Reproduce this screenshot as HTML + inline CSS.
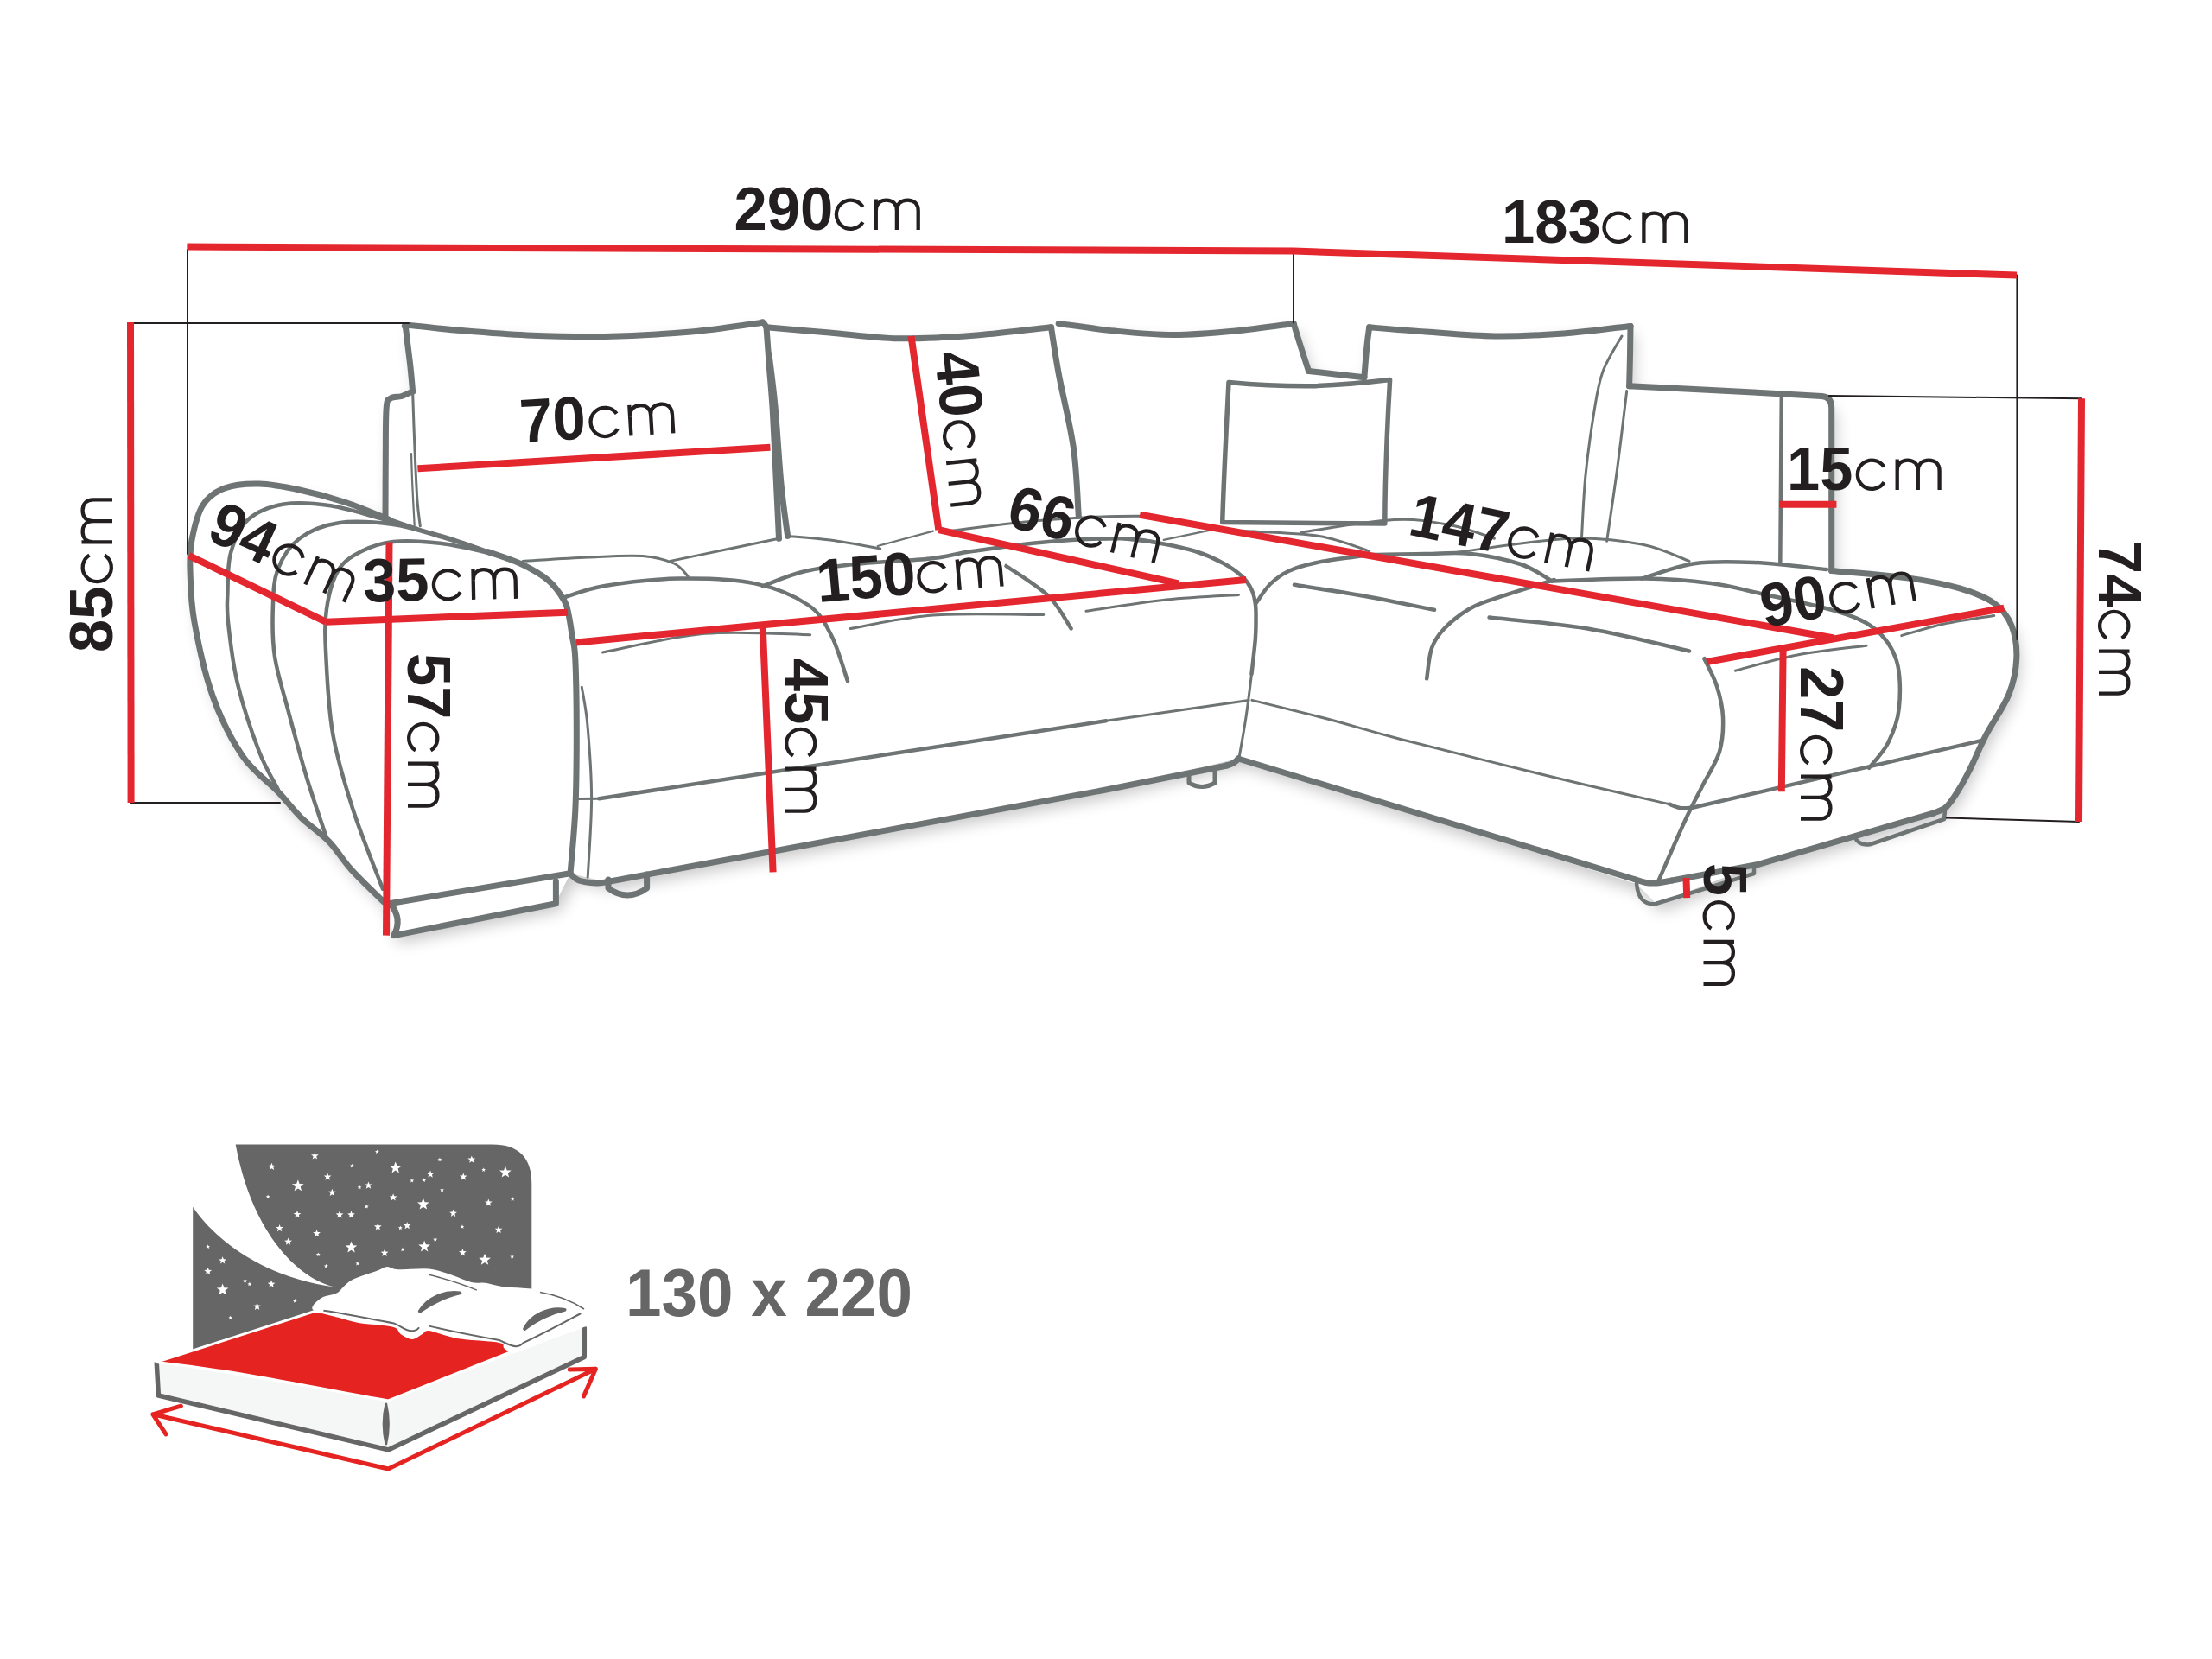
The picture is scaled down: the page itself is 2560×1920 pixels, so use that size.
<!DOCTYPE html>
<html><head><meta charset="utf-8"><style>
html,body{margin:0;padding:0;background:#fff;width:2560px;height:1920px;overflow:hidden}
svg{display:block}
text{font-family:"Liberation Sans",sans-serif}
</style></head><body>
<svg width="2560" height="1920" viewBox="0 0 2560 1920">
<rect width="2560" height="1920" fill="#fff"/>
<defs><filter id="sh" x="-10%" y="-10%" width="120%" height="130%"><feGaussianBlur stdDeviation="9"/></filter></defs>
<path d="M218.8 644.0 L222.0 625.0 L234.5 585.0 L260.0 565.0 L300.0 560.0 L346.6 567.0 L400.8 581.7 L446.0 597.6 L446.3 530.0 L447.2 472.0 L452.0 461.0 L477.6 453.0 L471.0 392.0 L469.5 379.0 L526.8 382.0 L700.0 389.5 L874.0 374.5 L887.0 378.8 L1040.0 391.8 L1216.5 378.8 L1225.0 374.5 L1358.3 387.5 L1497.2 374.5 L1514.5 429.4 L1578.9 436.7 L1584.7 378.8 L1729.4 389.0 L1887.0 377.4 L1885.6 446.8 L2108.0 458.5 L2119.7 472.0 L2119.7 660.4 L2209.4 669.1 L2267.2 680.7 L2307.7 698.0 L2328.0 724.0 L2333.8 761.7 L2325.0 803.4 L2299.0 849.7 L2267.2 913.4 L2252.8 933.6 L2238.3 940.8 L2035.7 1000.2 L1917.0 1046.0 L1894.0 1023.0 L1433.0 878.0 L1280.0 914.0 L702.0 1020.7 L660.0 1011.0 L643.0 1045.0 L456.0 1082.6 L443.7 1043.5 L406.8 1006.6 L380.8 974.0 L348.2 945.9 L321.5 916.0 L281.0 875.4 L246.3 806.0 L225.0 720.0Z" fill="#000" opacity="0.22" filter="url(#sh)" transform="translate(5 9)"/>
<path d="M218.8 644.0 L222.0 625.0 L234.5 585.0 L260.0 565.0 L300.0 560.0 L346.6 567.0 L400.8 581.7 L446.0 597.6 L446.3 530.0 L447.2 472.0 L452.0 461.0 L477.6 453.0 L471.0 392.0 L469.5 379.0 L526.8 382.0 L700.0 389.5 L874.0 374.5 L887.0 378.8 L1040.0 391.8 L1216.5 378.8 L1225.0 374.5 L1358.3 387.5 L1497.2 374.5 L1514.5 429.4 L1578.9 436.7 L1584.7 378.8 L1729.4 389.0 L1887.0 377.4 L1885.6 446.8 L2108.0 458.5 L2119.7 472.0 L2119.7 660.4 L2209.4 669.1 L2267.2 680.7 L2307.7 698.0 L2328.0 724.0 L2333.8 761.7 L2325.0 803.4 L2299.0 849.7 L2267.2 913.4 L2252.8 933.6 L2238.3 940.8 L2035.7 1000.2 L1917.0 1046.0 L1894.0 1023.0 L1433.0 878.0 L1280.0 914.0 L702.0 1020.7 L660.0 1011.0 L643.0 1045.0 L456.0 1082.6 L443.7 1043.5 L406.8 1006.6 L380.8 974.0 L348.2 945.9 L321.5 916.0 L281.0 875.4 L246.3 806.0 L225.0 720.0Z" fill="#fff"/>
<path d="M446.0 603.0 C446.1 590.8 446.1 551.8 446.3 530.0 C446.5 508.2 446.2 483.5 447.2 472.0 C448.1 460.5 449.0 463.2 452.0 461.0 C455.0 458.8 460.7 459.8 465.0 458.5 C469.3 457.2 475.5 453.9 477.6 453.0" stroke="#6e7373" stroke-width="7" fill="none" stroke-linecap="round" stroke-linejoin="round"/>
<path d="M477.6 453.0 C477.2 448.3 476.1 435.2 475.0 425.0 C473.9 414.8 471.9 399.7 471.0 392.0 C470.1 384.3 469.8 381.2 469.5 379.0" stroke="#6e7373" stroke-width="7" fill="none" stroke-linecap="round" stroke-linejoin="round"/>
<path d="M469.5 379.0 C470.2 378.6 464.4 376.0 474.0 376.5 C483.6 377.0 504.1 380.1 526.8 382.0 C549.5 383.9 581.1 386.8 610.0 388.0 C638.9 389.2 668.3 390.2 700.0 389.5 C731.7 388.8 771.0 386.5 800.0 384.0 C829.0 381.5 860.2 376.3 874.0 374.5 C887.8 372.7 880.5 372.3 882.7 373.0 C884.9 373.7 886.3 377.8 887.0 378.8" stroke="#6e7373" stroke-width="7" fill="none" stroke-linecap="round" stroke-linejoin="round"/>
<path d="M887.0 378.8 C887.5 385.7 888.8 403.9 890.0 420.0 C891.2 436.1 893.0 454.0 894.3 475.7 C895.6 497.4 896.8 525.4 898.0 550.0 C899.2 574.6 900.9 611.1 901.5 623.3" stroke="#6e7373" stroke-width="7" fill="none" stroke-linecap="round" stroke-linejoin="round"/>
<path d="M477.6 453.0 C478.0 464.2 479.1 498.8 480.0 520.0 C480.9 541.2 481.9 565.2 483.0 580.0 C484.1 594.8 485.8 604.0 486.3 608.8" stroke="#6e7373" stroke-width="3" fill="none" stroke-linecap="round" stroke-linejoin="round"/>
<path d="M476.0 525.0 C476.2 530.8 476.6 546.2 477.2 560.0 C477.8 573.8 479.3 600.0 479.7 608.0" stroke="#6e7373" stroke-width="2.2" fill="none" stroke-linecap="round" stroke-linejoin="round"/>
<path d="M901.5 623.3 C891.2 625.4 861.0 631.6 840.0 636.0 C819.0 640.4 786.4 647.2 775.7 649.4" stroke="#6e7373" stroke-width="3" fill="none" stroke-linecap="round" stroke-linejoin="round"/>
<path d="M887.0 378.8 C899.2 379.8 934.5 382.8 960.0 385.0 C985.5 387.2 1011.7 391.3 1040.0 391.8 C1068.3 392.3 1100.6 390.2 1130.0 388.0 C1159.4 385.8 1202.1 380.3 1216.5 378.8" stroke="#6e7373" stroke-width="7" fill="none" stroke-linecap="round" stroke-linejoin="round"/>
<path d="M890.0 410.0 C891.2 420.0 894.7 445.0 897.0 470.0 C899.3 495.0 901.6 534.9 904.0 560.0 C906.4 585.1 910.3 610.3 911.6 620.4" stroke="#6e7373" stroke-width="7" fill="none" stroke-linecap="round" stroke-linejoin="round"/>
<path d="M911.6 620.4 C919.8 621.2 942.9 622.6 960.8 625.0 C978.6 627.4 1009.1 633.3 1018.7 635.0" stroke="#6e7373" stroke-width="3" fill="none" stroke-linecap="round" stroke-linejoin="round"/>
<path d="M1216.5 378.8 C1218.0 387.7 1220.9 408.9 1225.2 432.3 C1229.5 455.7 1238.7 491.6 1242.5 519.1 C1246.3 546.6 1247.3 584.3 1248.3 597.3" stroke="#6e7373" stroke-width="7" fill="none" stroke-linecap="round" stroke-linejoin="round"/>
<path d="M1225.2 374.5 C1236.0 375.9 1267.8 380.8 1290.0 383.0 C1312.2 385.2 1335.0 387.5 1358.3 387.5 C1381.6 387.5 1406.8 385.2 1430.0 383.0 C1453.2 380.8 1486.0 375.9 1497.2 374.5" stroke="#6e7373" stroke-width="7" fill="none" stroke-linecap="round" stroke-linejoin="round"/>
<path d="M1497.2 374.5 C1498.5 378.8 1502.1 390.9 1505.0 400.0 C1507.9 409.1 1512.9 424.5 1514.5 429.4" stroke="#6e7373" stroke-width="7" fill="none" stroke-linecap="round" stroke-linejoin="round"/>
<path d="M1514.5 429.4 C1519.6 430.0 1534.3 431.8 1545.0 433.0 C1555.7 434.2 1573.2 436.1 1578.9 436.7" stroke="#6e7373" stroke-width="7" fill="none" stroke-linecap="round" stroke-linejoin="round"/>
<path d="M1578.9 436.7 C1579.4 430.6 1581.0 409.6 1582.0 400.0 C1583.0 390.4 1584.2 382.3 1584.7 378.8" stroke="#6e7373" stroke-width="7" fill="none" stroke-linecap="round" stroke-linejoin="round"/>
<path d="M1584.7 378.8 C1595.6 379.7 1625.9 382.3 1650.0 384.0 C1674.1 385.7 1702.7 388.7 1729.4 389.0 C1756.1 389.3 1783.7 387.9 1810.0 386.0 C1836.3 384.1 1874.2 378.8 1887.0 377.4" stroke="#6e7373" stroke-width="7" fill="none" stroke-linecap="round" stroke-linejoin="round"/>
<path d="M1887.0 377.4 C1886.9 382.8 1886.7 398.4 1886.5 410.0 C1886.3 421.6 1885.8 440.7 1885.6 446.8" stroke="#6e7373" stroke-width="7" fill="none" stroke-linecap="round" stroke-linejoin="round"/>
<path d="M1877.0 389.0 C1873.3 395.8 1860.3 415.6 1855.0 430.0 C1849.7 444.4 1848.3 455.7 1845.0 475.7 C1841.7 495.7 1837.4 525.9 1835.0 550.0 C1832.6 574.1 1831.3 608.7 1830.6 620.4" stroke="#6e7373" stroke-width="3" fill="none" stroke-linecap="round" stroke-linejoin="round"/>
<path d="M1882.7 452.6 C1880.9 467.2 1875.8 511.1 1872.0 540.0 C1868.2 568.9 1861.7 611.8 1859.6 626.2" stroke="#6e7373" stroke-width="3" fill="none" stroke-linecap="round" stroke-linejoin="round"/>
<path d="M1885.6 446.8 C1904.7 447.8 1962.9 450.6 2000.0 452.5 C2037.1 454.4 2090.0 457.5 2108.0 458.5" stroke="#6e7373" stroke-width="7" fill="none" stroke-linecap="round" stroke-linejoin="round"/>
<path d="M2108 458.5 Q2119.7 459 2119.7 472 L2119.7 660.4" stroke="#6e7373" stroke-width="7" fill="none" stroke-linecap="round" stroke-linejoin="round"/>
<path d="M2061.8 460.8 C2061.7 477.3 2061.2 528.2 2061.0 560.0 C2060.8 591.8 2060.4 636.4 2060.3 651.7" stroke="#6e7373" stroke-width="4.5" fill="none" stroke-linecap="round" stroke-linejoin="round"/>
<path d="M1422 442.5 C1460 446 1490 447 1517.4 446.8 C1550 446 1580 443 1608.6 439.6 C1605 500 1603 560 1602.8 606 C1560 606 1480 605 1414.7 604.5 C1416 560 1419 500 1422 442.5 Z" stroke="#6e7373" stroke-width="5.5" fill="none" stroke-linecap="round" stroke-linejoin="round"/>
<path d="M443.7 1043.5 C437.6 1037.3 417.3 1018.2 406.8 1006.6 C396.3 995.0 390.6 984.1 380.8 974.0 C371.0 963.9 358.1 955.6 348.2 945.9 C338.3 936.2 332.7 927.8 321.5 916.0 C310.3 904.2 293.5 893.7 281.0 875.4 C268.5 857.1 255.6 831.9 246.3 806.0 C237.0 780.1 229.4 744.3 225.0 720.0 C220.6 695.7 220.5 675.8 220.0 660.0 C219.5 644.2 219.6 637.5 222.0 625.0 C224.4 612.5 228.2 595.0 234.5 585.0 C240.8 575.0 249.1 569.2 260.0 565.0 C270.9 560.8 285.6 559.7 300.0 560.0 C314.4 560.3 329.8 563.4 346.6 567.0 C363.4 570.6 383.6 576.0 400.8 581.7 C418.0 587.4 441.6 597.8 449.7 601.0" stroke="#6e7373" stroke-width="7" fill="none" stroke-linecap="round" stroke-linejoin="round"/>
<path d="M440.0 597.0 C447.1 599.5 469.0 607.6 482.3 611.9 C495.6 616.2 506.3 618.6 520.0 623.0 C533.7 627.4 550.9 633.6 564.6 638.5 C578.4 643.4 590.9 646.9 602.5 652.4 C614.1 657.9 628.9 668.2 634.2 671.4" stroke="#6e7373" stroke-width="4.5" fill="none" stroke-linecap="round" stroke-linejoin="round"/>
<path d="M321.5 913.0 C317.9 905.8 307.8 890.2 300.0 870.0 C292.2 849.8 281.0 816.5 275.0 791.5 C269.0 766.5 265.9 737.5 264.0 720.0 C262.1 702.5 262.9 699.9 263.4 686.6 C263.9 673.3 263.1 654.2 267.0 640.0 C270.9 625.8 276.6 611.0 286.9 601.6 C297.1 592.2 312.5 586.2 328.5 583.5 C344.5 580.8 363.1 582.3 382.7 585.3 C402.3 588.3 429.4 597.2 446.0 601.6 C462.6 606.0 476.2 610.2 482.3 611.9" stroke="#6e7373" stroke-width="4.5" fill="none" stroke-linecap="round" stroke-linejoin="round"/>
<path d="M379.4 973.8 C375.3 961.5 362.7 925.6 355.0 900.0 C347.3 874.4 339.2 843.7 333.0 820.4 C326.8 797.1 320.9 779.3 318.0 760.0 C315.1 740.7 315.2 721.5 315.8 704.7 C316.4 688.0 316.2 673.1 321.3 659.5 C326.4 645.9 334.9 632.3 346.6 623.3 C358.4 614.2 373.7 607.9 391.8 605.2 C409.9 602.5 435.4 604.4 455.0 607.0 C474.6 609.6 491.0 615.8 509.3 621.0 C527.6 626.2 555.4 635.6 564.6 638.5" stroke="#6e7373" stroke-width="4.5" fill="none" stroke-linecap="round" stroke-linejoin="round"/>
<path d="M564.6 638.5 C570.9 640.8 590.9 646.9 602.5 652.4 C614.1 657.9 625.8 664.2 634.2 671.4 C642.7 678.6 649.2 688.6 653.2 695.4 C657.2 702.2 656.7 705.4 658.2 712.0 C659.7 718.6 660.7 726.6 662.0 735.0 C663.3 743.4 664.9 743.4 665.8 762.5 C666.7 781.6 667.3 820.5 667.3 849.4 C667.3 878.3 667.1 909.0 665.9 936.0 C664.7 963.0 661.0 998.8 660.0 1011.4" stroke="#6e7373" stroke-width="7" fill="none" stroke-linecap="round" stroke-linejoin="round"/>
<path d="M443.0 1028.8 C437.2 1013.4 417.9 966.1 408.3 936.2 C398.7 906.3 390.4 878.9 385.2 849.4 C380.0 819.9 378.5 783.1 377.3 759.0 C376.1 734.9 375.6 721.3 378.0 704.7 C380.4 688.1 385.0 670.6 391.8 659.5 C398.6 648.4 408.4 643.2 418.9 637.8 C429.4 632.4 439.9 628.4 455.0 626.9 C470.1 625.4 491.2 626.6 509.3 628.7 C527.4 630.8 548.1 635.7 563.6 639.6 C579.1 643.5 596.0 650.3 602.5 652.4" stroke="#6e7373" stroke-width="4.5" fill="none" stroke-linecap="round" stroke-linejoin="round"/>
<path d="M450.2 1045.7 L658.5 1011 M643.4 1020 L643.4 1045.7 L456 1082.6" stroke="#6e7373" stroke-width="7" fill="none" stroke-linecap="round" stroke-linejoin="round"/>
<path d="M452 1046 Q466 1064 456 1082" stroke="#6e7373" stroke-width="7" fill="none" stroke-linecap="round" stroke-linejoin="round"/>
<path d="M673.3 795.2 C674.4 802.7 678.1 818.5 680.0 840.0 C681.9 861.5 684.6 895.0 684.6 924.2 C684.6 953.4 680.9 1000.1 680.2 1015.3" stroke="#6e7373" stroke-width="3" fill="none" stroke-linecap="round" stroke-linejoin="round"/>
<path d="M660.0 1011.0 C661.7 1012.3 665.0 1017.2 670.0 1019.0 C675.0 1020.8 684.7 1021.7 690.0 1022.0 C695.3 1022.3 700.0 1020.9 702.0 1020.7" stroke="#6e7373" stroke-width="7" fill="none" stroke-linecap="round" stroke-linejoin="round"/>
<path d="M702.0 1020.7 L1280.0 914.0 L1420.0 886.0" stroke="#6e7373" stroke-width="7" fill="none" stroke-linecap="round" stroke-linejoin="round"/>
<path d="M1419 886 Q1429 884 1433 878" stroke="#6e7373" stroke-width="7" fill="none" stroke-linecap="round" stroke-linejoin="round"/>
<path d="M704 1018 L704 1028 Q726 1044 748.6 1028 L748.6 1012" stroke="#6e7373" stroke-width="7" fill="none" stroke-linecap="round" stroke-linejoin="round"/>
<path d="M1376 896 L1376 906 Q1391 915 1406 906 L1406 892" stroke="#6e7373" stroke-width="5" fill="none" stroke-linecap="round" stroke-linejoin="round"/>
<path d="M669.0 924.5 L693.3 924.2" stroke="#6e7373" stroke-width="3" fill="none" stroke-linecap="round" stroke-linejoin="round"/>
<path d="M693.3 924.2 L1280.0 834.3" stroke="#6e7373" stroke-width="4.5" fill="none" stroke-linecap="round" stroke-linejoin="round"/>
<path d="M1280.0 834.3 L1445.0 810.4" stroke="#6e7373" stroke-width="3" fill="none" stroke-linecap="round" stroke-linejoin="round"/>
<path d="M1300.4 623.3 C1307.0 624.1 1326.2 625.8 1340.0 628.2 C1353.8 630.7 1370.7 634.0 1383.4 638.0 C1396.1 642.0 1407.0 647.1 1416.0 652.0 C1425.0 656.9 1432.2 662.1 1437.6 667.2 C1443.0 672.3 1445.9 676.9 1448.5 682.4 C1451.1 687.9 1452.2 693.7 1453.0 700.0 C1453.8 706.3 1453.5 713.3 1453.5 720.0 C1453.5 726.7 1453.6 730.0 1452.8 740.0 C1452.0 750.0 1449.2 773.3 1448.5 780.0" stroke="#6e7373" stroke-width="4.5" fill="none" stroke-linecap="round" stroke-linejoin="round"/>
<path d="M1452.8 740.0 C1452.1 746.7 1450.3 765.0 1448.5 780.0 C1446.7 795.0 1444.4 813.8 1442.0 830.0 C1439.6 846.2 1435.3 869.2 1434.0 877.0" stroke="#6e7373" stroke-width="3" fill="none" stroke-linecap="round" stroke-linejoin="round"/>
<path d="M651.0 692.0 C659.2 689.7 677.3 681.7 700.0 678.0 C722.7 674.3 758.2 670.0 787.2 669.6 C816.2 669.2 849.4 670.3 874.0 675.4 C898.6 680.5 920.3 690.1 935.0 700.0 C949.7 709.9 954.3 720.3 962.0 735.0 C969.7 749.7 977.8 779.3 981.0 788.2" stroke="#6e7373" stroke-width="4.5" fill="none" stroke-linecap="round" stroke-linejoin="round"/>
<path d="M605.0 649.4 C617.5 648.7 656.9 646.0 680.0 645.0 C703.1 644.0 727.1 642.4 743.8 643.6 C760.5 644.8 771.3 648.1 780.0 652.0 C788.7 655.9 793.3 664.2 796.0 666.7" stroke="#6e7373" stroke-width="3" fill="none" stroke-linecap="round" stroke-linejoin="round"/>
<path d="M882.7 678.3 C890.9 675.4 912.5 665.4 932.0 661.0 C951.5 656.6 975.9 654.4 1000.0 652.0 C1024.1 649.6 1055.5 648.9 1076.6 646.5 C1097.7 644.1 1104.0 641.0 1126.8 637.8 C1149.6 634.5 1184.7 629.4 1213.6 627.0 C1242.5 624.6 1279.3 623.1 1300.4 623.3 C1321.5 623.5 1333.4 627.4 1340.0 628.2" stroke="#6e7373" stroke-width="4.5" fill="none" stroke-linecap="round" stroke-linejoin="round"/>
<path d="M1097.9 614.6 C1117.2 612.4 1175.0 604.5 1213.6 601.6 C1252.2 598.7 1301.7 596.7 1329.4 597.3 C1357.1 597.9 1371.6 603.7 1380.0 605.0" stroke="#6e7373" stroke-width="3" fill="none" stroke-linecap="round" stroke-linejoin="round"/>
<path d="M1015.8 632.0 L1080.0 614.6" stroke="#6e7373" stroke-width="2.2" fill="none" stroke-linecap="round" stroke-linejoin="round"/>
<path d="M697.5 755.0 C717.2 751.4 776.0 736.7 816.0 733.3 C856.0 729.9 917.4 734.5 937.7 734.7" stroke="#6e7373" stroke-width="3" fill="none" stroke-linecap="round" stroke-linejoin="round"/>
<path d="M984.0 727.5 C1000.0 724.9 1042.7 714.6 1080.0 712.0 C1117.3 709.4 1186.5 711.7 1207.8 711.6" stroke="#6e7373" stroke-width="3" fill="none" stroke-linecap="round" stroke-linejoin="round"/>
<path d="M1257.0 707.2 C1272.5 705.0 1320.6 697.1 1350.0 694.0 C1379.4 690.9 1419.6 689.3 1433.5 688.4" stroke="#6e7373" stroke-width="3" fill="none" stroke-linecap="round" stroke-linejoin="round"/>
<path d="M1164.4 655.0 C1172.6 660.8 1201.0 677.9 1213.6 690.0 C1226.1 702.1 1235.3 721.2 1239.7 727.5" stroke="#6e7373" stroke-width="4.5" fill="none" stroke-linecap="round" stroke-linejoin="round"/>
<path d="M1346.7 624.8 L1410.0 611.7" stroke="#6e7373" stroke-width="2.2" fill="none" stroke-linecap="round" stroke-linejoin="round"/>
<path d="M1453.9 697.6 C1456.6 694.0 1463.7 682.1 1470.0 676.0 C1476.3 669.9 1482.7 664.9 1491.8 660.7 C1500.9 656.5 1511.7 653.7 1524.4 651.0 C1537.1 648.3 1556.9 646.0 1567.8 644.5 C1578.7 643.0 1576.1 642.7 1589.8 642.1 C1603.5 641.5 1631.6 641.2 1650.0 641.0 C1668.4 640.8 1682.1 638.7 1700.4 640.7 C1718.7 642.7 1744.1 647.7 1760.0 653.0 C1775.9 658.3 1790.0 669.2 1796.0 672.5" stroke="#6e7373" stroke-width="4.5" fill="none" stroke-linecap="round" stroke-linejoin="round"/>
<path d="M1796.0 672.5 C1813.8 672.0 1872.3 669.2 1903.0 669.6 C1933.7 670.0 1957.9 672.2 1980.0 675.0 C2002.1 677.8 2012.0 681.2 2035.7 686.5 C2059.4 691.8 2100.3 700.0 2122.5 706.7 C2144.7 713.5 2156.7 717.4 2168.8 727.0 C2180.9 736.6 2190.1 749.2 2194.9 764.6 C2199.7 780.0 2199.5 803.7 2197.8 819.6 C2196.2 835.5 2190.8 848.5 2185.0 860.0 C2179.2 871.5 2166.7 884.0 2163.0 888.8" stroke="#6e7373" stroke-width="4.5" fill="none" stroke-linecap="round" stroke-linejoin="round"/>
<path d="M1900.0 669.6 C1910.1 666.7 1939.1 655.3 1960.8 652.2 C1982.5 649.1 2004.5 649.9 2030.0 651.0 C2055.5 652.1 2099.9 657.7 2113.9 659.0" stroke="#6e7373" stroke-width="4.5" fill="none" stroke-linecap="round" stroke-linejoin="round"/>
<path d="M1440.0 614.6 C1454.5 615.6 1502.7 616.5 1526.8 620.4 C1550.9 624.3 1575.0 634.9 1584.7 637.8" stroke="#6e7373" stroke-width="3" fill="none" stroke-linecap="round" stroke-linejoin="round"/>
<path d="M1506.5 616.0 C1524.3 613.6 1584.7 602.9 1613.6 601.6 C1642.5 600.3 1660.7 604.4 1680.0 608.0 C1699.3 611.6 1721.2 620.8 1729.4 623.3" stroke="#6e7373" stroke-width="3" fill="none" stroke-linecap="round" stroke-linejoin="round"/>
<path d="M1686.0 639.2 C1707.7 636.6 1780.3 624.8 1816.0 623.3 C1851.7 621.8 1876.8 625.6 1900.0 630.0 C1923.2 634.4 1945.8 646.2 1955.0 649.4" stroke="#6e7373" stroke-width="3" fill="none" stroke-linecap="round" stroke-linejoin="round"/>
<path d="M1440.0 604.5 C1453.3 604.6 1493.0 604.8 1520.0 605.0 C1547.0 605.2 1588.3 605.8 1602.0 606.0" stroke="#6e7373" stroke-width="3" fill="none" stroke-linecap="round" stroke-linejoin="round"/>
<path d="M1497.9 676.8 C1511.6 679.0 1553.0 685.2 1580.0 690.0 C1607.0 694.8 1646.7 703.2 1660.0 705.8" stroke="#6e7373" stroke-width="4.5" fill="none" stroke-linecap="round" stroke-linejoin="round"/>
<path d="M1723.6 714.5 C1743.0 716.8 1801.4 721.5 1840.0 728.0 C1878.6 734.5 1935.8 749.2 1955.0 753.5" stroke="#6e7373" stroke-width="4.5" fill="none" stroke-linecap="round" stroke-linejoin="round"/>
<path d="M1651.2 785.4 C1652.2 779.5 1653.6 759.6 1657.0 750.0 C1660.4 740.4 1664.3 735.0 1671.5 727.5 C1678.7 720.0 1690.3 710.8 1700.0 705.0 C1709.7 699.2 1712.9 698.5 1729.4 692.8 C1745.9 687.1 1787.2 674.6 1798.8 671.0" stroke="#6e7373" stroke-width="4.5" fill="none" stroke-linecap="round" stroke-linejoin="round"/>
<path d="M1972.4 762.2 C1974.8 767.5 1983.3 782.7 1986.9 794.0 C1990.5 805.3 1993.5 817.3 1994.0 830.0 C1994.5 842.7 1994.0 856.7 1990.0 870.0 C1986.0 883.3 1976.7 896.7 1970.0 910.0 C1963.3 923.3 1958.5 931.6 1950.0 950.0 C1941.5 968.4 1924.1 1008.7 1918.9 1020.4" stroke="#6e7373" stroke-width="4.5" fill="none" stroke-linecap="round" stroke-linejoin="round"/>
<path d="M2008.3 776.2 C2020.2 773.2 2054.7 762.8 2080.0 758.0 C2105.3 753.2 2146.7 749.0 2160.0 747.2" stroke="#6e7373" stroke-width="3" fill="none" stroke-linecap="round" stroke-linejoin="round"/>
<path d="M2200.7 735.6 C2208.9 733.3 2232.2 725.9 2250.0 722.0 C2267.8 718.1 2298.1 714.1 2307.7 712.5" stroke="#6e7373" stroke-width="3" fill="none" stroke-linecap="round" stroke-linejoin="round"/>
<path d="M2119.7 660.4 C2134.6 661.9 2184.8 665.7 2209.4 669.1 C2234.0 672.5 2250.8 675.9 2267.2 680.7 C2283.6 685.5 2297.6 690.8 2307.7 698.0 C2317.8 705.2 2323.7 713.4 2328.0 724.0 C2332.3 734.6 2334.3 748.5 2333.8 761.7 C2333.3 774.9 2330.8 788.7 2325.0 803.4 C2319.2 818.1 2306.5 835.3 2299.0 849.7 C2291.5 864.1 2285.3 879.4 2280.0 890.0 C2274.7 900.6 2271.7 906.1 2267.2 913.4 C2262.7 920.7 2257.6 929.0 2252.8 933.6 C2248.0 938.2 2240.7 939.6 2238.3 940.8" stroke="#6e7373" stroke-width="7" fill="none" stroke-linecap="round" stroke-linejoin="round"/>
<path d="M1433.0 878.0 L1891.4 1017.5" stroke="#6e7373" stroke-width="7" fill="none" stroke-linecap="round" stroke-linejoin="round"/>
<path d="M1891.4 1017.5 C1893.7 1018.2 1900.7 1020.8 1905.0 1021.5 C1909.3 1022.2 1912.4 1022.3 1917.4 1021.9 C1922.4 1021.5 1932.1 1019.5 1935.0 1019.0" stroke="#6e7373" stroke-width="7" fill="none" stroke-linecap="round" stroke-linejoin="round"/>
<path d="M1935.0 1019.0 L2035.7 1000.2 L2238.3 940.8" stroke="#6e7373" stroke-width="7" fill="none" stroke-linecap="round" stroke-linejoin="round"/>
<path d="M1449.0 810.4 C1464.2 814.2 1511.5 825.5 1540.0 833.0 C1568.5 840.5 1576.7 844.0 1620.0 855.2 C1663.3 866.4 1748.0 887.4 1800.0 900.0 C1852.0 912.6 1910.0 925.6 1932.0 930.7" stroke="#6e7373" stroke-width="3" fill="none" stroke-linecap="round" stroke-linejoin="round"/>
<path d="M1932.0 930.7 C1934.0 931.4 1939.7 934.3 1944.0 935.0 C1948.3 935.7 1955.3 935.0 1957.6 935.0" stroke="#6e7373" stroke-width="4.5" fill="none" stroke-linecap="round" stroke-linejoin="round"/>
<path d="M1957.6 935.0 L2293.3 857.0" stroke="#6e7373" stroke-width="4.5" fill="none" stroke-linecap="round" stroke-linejoin="round"/>
<path d="M1894 1022 Q1896 1048 1916 1046 L2030 1011 L2030 1002" stroke="#6e7373" stroke-width="4.5" fill="none" stroke-linecap="round" stroke-linejoin="round"/>
<path d="M2146 968 Q2152 980 2165 977 L2250 948 L2251 938" stroke="#6e7373" stroke-width="4.5" fill="none" stroke-linecap="round" stroke-linejoin="round"/>
<path d="M217.0 289.0 L217.0 641.0" stroke="#231f20" stroke-width="2" fill="none" stroke-linecap="round" stroke-linejoin="round"/>
<path d="M151.0 374.0 L473.0 374.0" stroke="#231f20" stroke-width="2" fill="none" stroke-linecap="round" stroke-linejoin="round"/>
<path d="M151.6 929.0 L324.0 929.0" stroke="#231f20" stroke-width="2" fill="none" stroke-linecap="round" stroke-linejoin="round"/>
<path d="M1497.0 291.0 L1497.0 373.6" stroke="#231f20" stroke-width="2" fill="none" stroke-linecap="round" stroke-linejoin="round"/>
<path d="M2334.4 318.6 L2334.4 740.0" stroke="#231f20" stroke-width="2" fill="none" stroke-linecap="round" stroke-linejoin="round"/>
<path d="M2116.8 457.9 L2409.0 461.3" stroke="#231f20" stroke-width="2" fill="none" stroke-linecap="round" stroke-linejoin="round"/>
<path d="M2252.8 946.6 L2406.0 951.0" stroke="#231f20" stroke-width="2" fill="none" stroke-linecap="round" stroke-linejoin="round"/>
<path d="M216.4 285.5 L1497.0 290.5" stroke="#e4262f" stroke-width="8" fill="none" stroke-linecap="butt"/>
<path d="M1497.0 290.5 L2334.0 318.6" stroke="#e4262f" stroke-width="8" fill="none" stroke-linecap="butt"/>
<path d="M151.0 373.0 L151.6 929.0" stroke="#e4262f" stroke-width="8" fill="none" stroke-linecap="butt"/>
<path d="M483.4 542.3 L891.4 517.7" stroke="#e4262f" stroke-width="8" fill="none" stroke-linecap="butt"/>
<path d="M1054.5 389.0 L1086.3 613.2" stroke="#e4262f" stroke-width="8" fill="none" stroke-linecap="butt"/>
<path d="M1086.3 613.2 L1364.0 675.4" stroke="#e4262f" stroke-width="8" fill="none" stroke-linecap="butt"/>
<path d="M218.8 643.0 L377.0 719.7" stroke="#e4262f" stroke-width="8" fill="none" stroke-linecap="butt"/>
<path d="M377.0 719.7 L657.0 708.7" stroke="#e4262f" stroke-width="8" fill="none" stroke-linecap="butt"/>
<path d="M450.5 627.6 L447.0 1082.6" stroke="#e4262f" stroke-width="8" fill="none" stroke-linecap="butt"/>
<path d="M667.0 743.4 L1442.2 671.0" stroke="#e4262f" stroke-width="8" fill="none" stroke-linecap="butt"/>
<path d="M882.7 724.6 L894.6 1009.4" stroke="#e4262f" stroke-width="8" fill="none" stroke-linecap="butt"/>
<path d="M1319.2 595.8 L2122.5 738.5" stroke="#e4262f" stroke-width="8" fill="none" stroke-linecap="butt"/>
<path d="M2059.0 583.7 L2125.4 583.7" stroke="#e4262f" stroke-width="8" fill="none" stroke-linecap="butt"/>
<path d="M1975.0 766.0 L2319.3 703.8" stroke="#e4262f" stroke-width="8" fill="none" stroke-linecap="butt"/>
<path d="M2409.0 461.3 L2406.0 951.0" stroke="#e4262f" stroke-width="8" fill="none" stroke-linecap="butt"/>
<path d="M2063.6 751.6 L2061.8 916.2" stroke="#e4262f" stroke-width="8" fill="none" stroke-linecap="butt"/>
<path d="M1951.5 1016.0 L1952.2 1039.2" stroke="#e4262f" stroke-width="8" fill="none" stroke-linecap="butt"/>
<g transform="translate(851.4 266.0) rotate(0.00)">
<text x="-2" y="0" font-size="71" font-weight="bold" fill="#231f20" textLength="114.8" lengthAdjust="spacingAndGlyphs">290</text>
<path transform="translate(114.6 0)" d="M32.58 -26.55 A16.6 16.6 0 1 0 32.58 -8.95 M47.8 0 L47.8 -35.5 M47.8 -22 C47.8 -30.5 53 -34.4 59.85 -34.4 C66.7 -34.4 71.9 -30.5 71.9 -22 L71.9 0 M71.9 -22 C71.9 -30.5 77.1 -34.4 84.3 -34.4 C91.5 -34.4 96.7 -30.5 96.7 -22 L96.7 0" fill="none" stroke="#231f20" stroke-width="4.3"/>
</g>
<g transform="translate(1740.0 281.0) rotate(0.00)">
<text x="-2" y="0" font-size="71" font-weight="bold" fill="#231f20" textLength="114.8" lengthAdjust="spacingAndGlyphs">183</text>
<path transform="translate(114.6 0)" d="M32.58 -26.55 A16.6 16.6 0 1 0 32.58 -8.95 M47.8 0 L47.8 -35.5 M47.8 -22 C47.8 -30.5 53 -34.4 59.85 -34.4 C66.7 -34.4 71.9 -30.5 71.9 -22 L71.9 0 M71.9 -22 C71.9 -30.5 77.1 -34.4 84.3 -34.4 C91.5 -34.4 96.7 -30.5 96.7 -22 L96.7 0" fill="none" stroke="#231f20" stroke-width="4.3"/>
</g>
<g transform="translate(130.0 753.0) rotate(-90.00)">
<text x="-2" y="0" font-size="71" font-weight="bold" fill="#231f20" textLength="76.3" lengthAdjust="spacingAndGlyphs">85</text>
<path transform="translate(77.9 0)" d="M32.58 -26.55 A16.6 16.6 0 1 0 32.58 -8.95 M47.8 0 L47.8 -35.5 M47.8 -22 C47.8 -30.5 53 -34.4 59.85 -34.4 C66.7 -34.4 71.9 -30.5 71.9 -22 L71.9 0 M71.9 -22 C71.9 -30.5 77.1 -34.4 84.3 -34.4 C91.5 -34.4 96.7 -30.5 96.7 -22 L96.7 0" fill="none" stroke="#231f20" stroke-width="4.3"/>
</g>
<g transform="translate(605.0 512.0) rotate(-3.50)">
<text x="-2" y="0" font-size="71" font-weight="bold" fill="#231f20" textLength="76.3" lengthAdjust="spacingAndGlyphs">70</text>
<path transform="translate(77.9 0)" d="M32.58 -26.55 A16.6 16.6 0 1 0 32.58 -8.95 M47.8 0 L47.8 -35.5 M47.8 -22 C47.8 -30.5 53 -34.4 59.85 -34.4 C66.7 -34.4 71.9 -30.5 71.9 -22 L71.9 0 M71.9 -22 C71.9 -30.5 77.1 -34.4 84.3 -34.4 C91.5 -34.4 96.7 -30.5 96.7 -22 L96.7 0" fill="none" stroke="#231f20" stroke-width="4.3"/>
</g>
<g transform="translate(239.0 624.0) rotate(24.60)">
<text x="-2" y="0" font-size="71" font-weight="bold" fill="#231f20" textLength="76.3" lengthAdjust="spacingAndGlyphs">94</text>
<path transform="translate(77.9 0)" d="M32.58 -26.55 A16.6 16.6 0 1 0 32.58 -8.95 M47.8 0 L47.8 -35.5 M47.8 -22 C47.8 -30.5 53 -34.4 59.85 -34.4 C66.7 -34.4 71.9 -30.5 71.9 -22 L71.9 0 M71.9 -22 C71.9 -30.5 77.1 -34.4 84.3 -34.4 C91.5 -34.4 96.7 -30.5 96.7 -22 L96.7 0" fill="none" stroke="#231f20" stroke-width="4.3"/>
</g>
<g transform="translate(422.5 696.5) rotate(-1.20)">
<text x="-2" y="0" font-size="71" font-weight="bold" fill="#231f20" textLength="76.3" lengthAdjust="spacingAndGlyphs">35</text>
<path transform="translate(77.9 0)" d="M32.58 -26.55 A16.6 16.6 0 1 0 32.58 -8.95 M47.8 0 L47.8 -35.5 M47.8 -22 C47.8 -30.5 53 -34.4 59.85 -34.4 C66.7 -34.4 71.9 -30.5 71.9 -22 L71.9 0 M71.9 -22 C71.9 -30.5 77.1 -34.4 84.3 -34.4 C91.5 -34.4 96.7 -30.5 96.7 -22 L96.7 0" fill="none" stroke="#231f20" stroke-width="4.3"/>
</g>
<g transform="translate(472.0 758.0) rotate(90.00)">
<text x="-2" y="0" font-size="71" font-weight="bold" fill="#231f20" textLength="76.3" lengthAdjust="spacingAndGlyphs">57</text>
<path transform="translate(77.9 0)" d="M32.58 -26.55 A16.6 16.6 0 1 0 32.58 -8.95 M47.8 0 L47.8 -35.5 M47.8 -22 C47.8 -30.5 53 -34.4 59.85 -34.4 C66.7 -34.4 71.9 -30.5 71.9 -22 L71.9 0 M71.9 -22 C71.9 -30.5 77.1 -34.4 84.3 -34.4 C91.5 -34.4 96.7 -30.5 96.7 -22 L96.7 0" fill="none" stroke="#231f20" stroke-width="4.3"/>
</g>
<g transform="translate(1082.0 411.0) rotate(84.00)">
<text x="-2" y="0" font-size="71" font-weight="bold" fill="#231f20" textLength="76.3" lengthAdjust="spacingAndGlyphs">40</text>
<path transform="translate(77.9 0)" d="M32.58 -26.55 A16.6 16.6 0 1 0 32.58 -8.95 M47.8 0 L47.8 -35.5 M47.8 -22 C47.8 -30.5 53 -34.4 59.85 -34.4 C66.7 -34.4 71.9 -30.5 71.9 -22 L71.9 0 M71.9 -22 C71.9 -30.5 77.1 -34.4 84.3 -34.4 C91.5 -34.4 96.7 -30.5 96.7 -22 L96.7 0" fill="none" stroke="#231f20" stroke-width="4.3"/>
</g>
<g transform="translate(1165.0 609.0) rotate(14.00)">
<text x="-2" y="0" font-size="71" font-weight="bold" fill="#231f20" textLength="76.3" lengthAdjust="spacingAndGlyphs">66</text>
<path transform="translate(77.9 0)" d="M32.58 -26.55 A16.6 16.6 0 1 0 32.58 -8.95 M47.8 0 L47.8 -35.5 M47.8 -22 C47.8 -30.5 53 -34.4 59.85 -34.4 C66.7 -34.4 71.9 -30.5 71.9 -22 L71.9 0 M71.9 -22 C71.9 -30.5 77.1 -34.4 84.3 -34.4 C91.5 -34.4 96.7 -30.5 96.7 -22 L96.7 0" fill="none" stroke="#231f20" stroke-width="4.3"/>
</g>
<g transform="translate(949.0 697.0) rotate(-5.00)">
<text x="-2" y="0" font-size="71" font-weight="bold" fill="#231f20" textLength="114.8" lengthAdjust="spacingAndGlyphs">150</text>
<path transform="translate(114.6 0)" d="M32.58 -26.55 A16.6 16.6 0 1 0 32.58 -8.95 M47.8 0 L47.8 -35.5 M47.8 -22 C47.8 -30.5 53 -34.4 59.85 -34.4 C66.7 -34.4 71.9 -30.5 71.9 -22 L71.9 0 M71.9 -22 C71.9 -30.5 77.1 -34.4 84.3 -34.4 C91.5 -34.4 96.7 -30.5 96.7 -22 L96.7 0" fill="none" stroke="#231f20" stroke-width="4.3"/>
</g>
<g transform="translate(909.0 764.0) rotate(90.00)">
<text x="-2" y="0" font-size="71" font-weight="bold" fill="#231f20" textLength="76.3" lengthAdjust="spacingAndGlyphs">45</text>
<path transform="translate(77.9 0)" d="M32.58 -26.55 A16.6 16.6 0 1 0 32.58 -8.95 M47.8 0 L47.8 -35.5 M47.8 -22 C47.8 -30.5 53 -34.4 59.85 -34.4 C66.7 -34.4 71.9 -30.5 71.9 -22 L71.9 0 M71.9 -22 C71.9 -30.5 77.1 -34.4 84.3 -34.4 C91.5 -34.4 96.7 -30.5 96.7 -22 L96.7 0" fill="none" stroke="#231f20" stroke-width="4.3"/>
</g>
<g transform="translate(1630.0 619.0) rotate(11.50)">
<text x="-2" y="0" font-size="71" font-weight="bold" fill="#231f20" textLength="114.8" lengthAdjust="spacingAndGlyphs">147</text>
<path transform="translate(114.6 0)" d="M32.58 -26.55 A16.6 16.6 0 1 0 32.58 -8.95 M47.8 0 L47.8 -35.5 M47.8 -22 C47.8 -30.5 53 -34.4 59.85 -34.4 C66.7 -34.4 71.9 -30.5 71.9 -22 L71.9 0 M71.9 -22 C71.9 -30.5 77.1 -34.4 84.3 -34.4 C91.5 -34.4 96.7 -30.5 96.7 -22 L96.7 0" fill="none" stroke="#231f20" stroke-width="4.3"/>
</g>
<g transform="translate(2070.0 567.0) rotate(0.00)">
<text x="-2" y="0" font-size="71" font-weight="bold" fill="#231f20" textLength="76.3" lengthAdjust="spacingAndGlyphs">15</text>
<path transform="translate(77.9 0)" d="M32.58 -26.55 A16.6 16.6 0 1 0 32.58 -8.95 M47.8 0 L47.8 -35.5 M47.8 -22 C47.8 -30.5 53 -34.4 59.85 -34.4 C66.7 -34.4 71.9 -30.5 71.9 -22 L71.9 0 M71.9 -22 C71.9 -30.5 77.1 -34.4 84.3 -34.4 C91.5 -34.4 96.7 -30.5 96.7 -22 L96.7 0" fill="none" stroke="#231f20" stroke-width="4.3"/>
</g>
<g transform="translate(2044.0 726.0) rotate(-10.00)">
<text x="-2" y="0" font-size="71" font-weight="bold" fill="#231f20" textLength="76.3" lengthAdjust="spacingAndGlyphs">90</text>
<path transform="translate(77.9 0)" d="M32.58 -26.55 A16.6 16.6 0 1 0 32.58 -8.95 M47.8 0 L47.8 -35.5 M47.8 -22 C47.8 -30.5 53 -34.4 59.85 -34.4 C66.7 -34.4 71.9 -30.5 71.9 -22 L71.9 0 M71.9 -22 C71.9 -30.5 77.1 -34.4 84.3 -34.4 C91.5 -34.4 96.7 -30.5 96.7 -22 L96.7 0" fill="none" stroke="#231f20" stroke-width="4.3"/>
</g>
<g transform="translate(2429.0 628.0) rotate(90.00)">
<text x="-2" y="0" font-size="71" font-weight="bold" fill="#231f20" textLength="76.3" lengthAdjust="spacingAndGlyphs">74</text>
<path transform="translate(77.9 0)" d="M32.58 -26.55 A16.6 16.6 0 1 0 32.58 -8.95 M47.8 0 L47.8 -35.5 M47.8 -22 C47.8 -30.5 53 -34.4 59.85 -34.4 C66.7 -34.4 71.9 -30.5 71.9 -22 L71.9 0 M71.9 -22 C71.9 -30.5 77.1 -34.4 84.3 -34.4 C91.5 -34.4 96.7 -30.5 96.7 -22 L96.7 0" fill="none" stroke="#231f20" stroke-width="4.3"/>
</g>
<g transform="translate(2084.0 773.0) rotate(90.00)">
<text x="-2" y="0" font-size="71" font-weight="bold" fill="#231f20" textLength="76.3" lengthAdjust="spacingAndGlyphs">27</text>
<path transform="translate(77.9 0)" d="M32.58 -26.55 A16.6 16.6 0 1 0 32.58 -8.95 M47.8 0 L47.8 -35.5 M47.8 -22 C47.8 -30.5 53 -34.4 59.85 -34.4 C66.7 -34.4 71.9 -30.5 71.9 -22 L71.9 0 M71.9 -22 C71.9 -30.5 77.1 -34.4 84.3 -34.4 C91.5 -34.4 96.7 -30.5 96.7 -22 L96.7 0" fill="none" stroke="#231f20" stroke-width="4.3"/>
</g>
<g transform="translate(1971.5 1001.0) rotate(90.00)">
<text x="-2" y="0" font-size="71" font-weight="bold" fill="#231f20" textLength="37.9" lengthAdjust="spacingAndGlyphs">5</text>
<path transform="translate(41.2 0)" d="M32.58 -26.55 A16.6 16.6 0 1 0 32.58 -8.95 M47.8 0 L47.8 -35.5 M47.8 -22 C47.8 -30.5 53 -34.4 59.85 -34.4 C66.7 -34.4 71.9 -30.5 71.9 -22 L71.9 0 M71.9 -22 C71.9 -30.5 77.1 -34.4 84.3 -34.4 C91.5 -34.4 96.7 -30.5 96.7 -22 L96.7 0" fill="none" stroke="#231f20" stroke-width="4.3"/>
</g>
<path d="M272.7 1324.5 L570 1324.5 Q615.3 1324.5 615.3 1370 L615.3 1545 L363.5 1525 L223.2 1570 L223.2 1396.8 C245 1430 300 1478 387 1489.4 C340 1478 290 1420 272.7 1324.5 Z" fill="#666"/>
<path d="M314.5 1345.7 L315.6 1348.7 L318.9 1348.9 L316.3 1350.9 L317.2 1354.0 L314.5 1352.2 L311.8 1354.0 L312.6 1350.9 L310.1 1348.9 L313.3 1348.7Z M364.4 1333.1 L365.5 1336.2 L368.8 1336.3 L366.2 1338.3 L367.1 1341.4 L364.4 1339.7 L361.7 1341.4 L362.6 1338.3 L360.0 1336.3 L363.3 1336.2Z M436.4 1330.4 L437.1 1332.1 L438.9 1332.1 L437.5 1333.3 L438.0 1335.1 L436.4 1334.0 L434.9 1335.1 L435.4 1333.3 L434.0 1332.1 L435.8 1332.1Z M407.4 1346.8 L408.0 1348.6 L409.8 1348.6 L408.4 1349.8 L408.9 1351.5 L407.4 1350.5 L405.8 1351.5 L406.3 1349.8 L404.9 1348.6 L406.7 1348.6Z M457.7 1344.4 L459.5 1349.2 L464.6 1349.4 L460.6 1352.5 L461.9 1357.4 L457.7 1354.6 L453.5 1357.4 L454.8 1352.5 L450.9 1349.4 L455.9 1349.2Z M508.9 1339.5 L509.6 1341.2 L511.4 1341.3 L510.0 1342.4 L510.5 1344.2 L508.9 1343.2 L507.4 1344.2 L507.9 1342.4 L506.5 1341.3 L508.3 1341.2Z M545.8 1337.5 L547.0 1340.5 L550.2 1340.6 L547.7 1342.7 L548.5 1345.8 L545.8 1344.0 L543.1 1345.8 L544.0 1342.7 L541.4 1340.6 L544.7 1340.5Z M584.9 1349.6 L586.7 1354.4 L591.7 1354.6 L587.8 1357.8 L589.1 1362.6 L584.9 1359.8 L580.6 1362.6 L582.0 1357.8 L578.0 1354.6 L583.1 1354.4Z M559.7 1351.2 L560.3 1352.9 L562.2 1353.0 L560.7 1354.1 L561.2 1355.9 L559.7 1354.9 L558.2 1355.9 L558.7 1354.1 L557.2 1353.0 L559.1 1352.9Z M536.3 1357.4 L537.4 1360.5 L540.6 1360.6 L538.1 1362.6 L539.0 1365.8 L536.3 1364.0 L533.6 1365.8 L534.4 1362.6 L531.9 1360.6 L535.1 1360.5Z M498.1 1354.4 L499.2 1357.4 L502.4 1357.6 L499.9 1359.6 L500.8 1362.7 L498.1 1360.9 L495.4 1362.7 L496.2 1359.6 L493.7 1357.6 L496.9 1357.4Z M490.7 1363.3 L491.3 1365.1 L493.2 1365.1 L491.7 1366.3 L492.2 1368.0 L490.7 1367.0 L489.2 1368.0 L489.7 1366.3 L488.2 1365.1 L490.1 1365.1Z M476.8 1363.8 L477.4 1365.5 L479.3 1365.6 L477.8 1366.7 L478.3 1368.5 L476.8 1367.5 L475.3 1368.5 L475.8 1366.7 L474.3 1365.6 L476.2 1365.5Z M379.1 1357.4 L380.3 1360.5 L383.5 1360.6 L381.0 1362.6 L381.9 1365.8 L379.1 1364.0 L376.4 1365.8 L377.3 1362.6 L374.8 1360.6 L378.0 1360.5Z M344.9 1365.2 L346.6 1370.0 L351.7 1370.2 L347.7 1373.4 L349.1 1378.3 L344.9 1375.5 L340.6 1378.3 L342.0 1373.4 L338.0 1370.2 L343.1 1370.0Z M384.4 1375.7 L385.5 1378.7 L388.7 1378.8 L386.2 1380.9 L387.1 1384.0 L384.4 1382.2 L381.7 1384.0 L382.5 1380.9 L380.0 1378.8 L383.2 1378.7Z M416.0 1371.6 L416.7 1373.3 L418.5 1373.4 L417.1 1374.5 L417.6 1376.3 L416.0 1375.3 L414.5 1376.3 L415.0 1374.5 L413.6 1373.4 L415.4 1373.3Z M426.5 1367.4 L427.6 1370.5 L430.8 1370.6 L428.3 1372.6 L429.2 1375.7 L426.5 1373.9 L423.8 1375.7 L424.6 1372.6 L422.1 1370.6 L425.3 1370.5Z M455.1 1381.3 L456.2 1384.3 L459.5 1384.5 L456.9 1386.5 L457.8 1389.6 L455.1 1387.8 L452.4 1389.6 L453.3 1386.5 L450.7 1384.5 L454.0 1384.3Z M489.8 1386.5 L491.6 1391.3 L496.7 1391.5 L492.7 1394.6 L494.1 1399.5 L489.8 1396.7 L485.6 1399.5 L487.0 1394.6 L483.0 1391.5 L488.0 1391.3Z M511.5 1374.6 L512.2 1376.3 L514.0 1376.4 L512.6 1377.6 L513.1 1379.3 L511.5 1378.3 L510.0 1379.3 L510.5 1377.6 L509.1 1376.4 L510.9 1376.3Z M565.3 1387.4 L566.5 1390.4 L569.7 1390.6 L567.2 1392.6 L568.1 1395.7 L565.3 1393.9 L562.6 1395.7 L563.5 1392.6 L561.0 1390.6 L564.2 1390.4Z M593.1 1385.0 L593.8 1386.8 L595.6 1386.8 L594.2 1388.0 L594.7 1389.7 L593.1 1388.7 L591.6 1389.7 L592.1 1388.0 L590.7 1386.8 L592.5 1386.8Z M310.1 1382.4 L310.8 1384.2 L312.6 1384.2 L311.2 1385.4 L311.7 1387.1 L310.1 1386.1 L308.6 1387.1 L309.1 1385.4 L307.7 1384.2 L309.5 1384.2Z M344.0 1400.8 L345.1 1403.9 L348.4 1404.0 L345.8 1406.0 L346.7 1409.2 L344.0 1407.4 L341.3 1409.2 L342.2 1406.0 L339.6 1404.0 L342.9 1403.9Z M393.0 1401.3 L394.2 1404.3 L397.4 1404.4 L394.9 1406.5 L395.7 1409.6 L393.0 1407.8 L390.3 1409.6 L391.2 1406.5 L388.7 1404.4 L391.9 1404.3Z M406.5 1401.3 L407.6 1404.3 L410.9 1404.4 L408.3 1406.5 L409.2 1409.6 L406.5 1407.8 L403.8 1409.6 L404.7 1406.5 L402.1 1404.4 L405.4 1404.3Z M424.3 1393.7 L424.9 1395.4 L426.8 1395.5 L425.3 1396.7 L425.8 1398.4 L424.3 1397.4 L422.8 1398.4 L423.2 1396.7 L421.8 1395.5 L423.6 1395.4Z M524.5 1399.5 L525.7 1402.6 L528.9 1402.7 L526.4 1404.7 L527.3 1407.9 L524.5 1406.1 L521.8 1407.9 L522.7 1404.7 L520.2 1402.7 L523.4 1402.6Z M323.6 1416.9 L324.7 1419.9 L328.0 1420.1 L325.4 1422.1 L326.3 1425.2 L323.6 1423.4 L320.9 1425.2 L321.8 1422.1 L319.2 1420.1 L322.5 1419.9Z M366.6 1423.0 L367.7 1426.0 L370.9 1426.1 L368.4 1428.2 L369.3 1431.3 L366.6 1429.5 L363.9 1431.3 L364.7 1428.2 L362.2 1426.1 L365.4 1426.0Z M437.3 1415.2 L438.4 1418.2 L441.7 1418.3 L439.1 1420.4 L440.0 1423.5 L437.3 1421.7 L434.6 1423.5 L435.5 1420.4 L432.9 1418.3 L436.2 1418.2Z M463.4 1418.5 L464.0 1420.2 L465.8 1420.3 L464.4 1421.4 L464.9 1423.2 L463.4 1422.2 L461.8 1423.2 L462.3 1421.4 L460.9 1420.3 L462.7 1420.2Z M471.2 1413.9 L472.3 1416.9 L475.5 1417.0 L473.0 1419.1 L473.9 1422.2 L471.2 1420.4 L468.5 1422.2 L469.3 1419.1 L466.8 1417.0 L470.0 1416.9Z M535.0 1417.2 L535.6 1418.9 L537.4 1419.0 L536.0 1420.1 L536.5 1421.9 L535.0 1420.8 L533.4 1421.9 L533.9 1420.1 L532.5 1419.0 L534.3 1418.9Z M577.1 1418.6 L578.2 1421.7 L581.4 1421.8 L578.9 1423.8 L579.8 1427.0 L577.1 1425.2 L574.4 1427.0 L575.2 1423.8 L572.7 1421.8 L575.9 1421.7Z M333.6 1432.5 L334.7 1435.6 L338.0 1435.7 L335.4 1437.7 L336.3 1440.8 L333.6 1439.1 L330.9 1440.8 L331.7 1437.7 L329.2 1435.7 L332.4 1435.6Z M406.5 1436.4 L408.3 1441.2 L413.3 1441.4 L409.4 1444.6 L410.7 1449.5 L406.5 1446.7 L402.3 1449.5 L403.6 1444.6 L399.6 1441.4 L404.7 1441.2Z M445.1 1445.5 L446.3 1448.6 L449.5 1448.7 L447.0 1450.7 L447.8 1453.9 L445.1 1452.1 L442.4 1453.9 L443.3 1450.7 L440.7 1448.7 L444.0 1448.6Z M466.0 1443.6 L466.6 1445.3 L468.4 1445.4 L467.0 1446.6 L467.5 1448.3 L466.0 1447.3 L464.4 1448.3 L464.9 1446.6 L463.5 1445.4 L465.3 1445.3Z M491.1 1435.6 L492.9 1440.3 L498.0 1440.5 L494.0 1443.7 L495.4 1448.6 L491.1 1445.8 L486.9 1448.6 L488.3 1443.7 L484.3 1440.5 L489.4 1440.3Z M503.7 1431.9 L504.4 1433.6 L506.2 1433.7 L504.8 1434.9 L505.2 1436.6 L503.7 1435.6 L502.2 1436.6 L502.7 1434.9 L501.2 1433.7 L503.1 1433.6Z M535.4 1445.1 L536.5 1448.1 L539.8 1448.3 L537.2 1450.3 L538.1 1453.4 L535.4 1451.6 L532.7 1453.4 L533.6 1450.3 L531.0 1448.3 L534.3 1448.1Z M561.0 1450.8 L562.8 1455.5 L567.9 1455.7 L563.9 1458.9 L565.2 1463.8 L561.0 1461.0 L556.8 1463.8 L558.1 1458.9 L554.2 1455.7 L559.2 1455.5Z M592.7 1451.9 L593.3 1453.6 L595.2 1453.7 L593.7 1454.8 L594.2 1456.6 L592.7 1455.6 L591.2 1456.6 L591.7 1454.8 L590.2 1453.7 L592.0 1453.6Z M368.3 1449.3 L368.9 1451.0 L370.8 1451.1 L369.3 1452.2 L369.8 1454.0 L368.3 1453.0 L366.8 1454.0 L367.3 1452.2 L365.8 1451.1 L367.7 1451.0Z M377.4 1462.7 L378.1 1464.4 L379.9 1464.5 L378.5 1465.7 L378.9 1467.4 L377.4 1466.4 L375.9 1467.4 L376.4 1465.7 L374.9 1464.5 L376.8 1464.4Z M413.9 1459.7 L414.5 1461.4 L416.3 1461.5 L414.9 1462.6 L415.4 1464.4 L413.9 1463.4 L412.3 1464.4 L412.8 1462.6 L411.4 1461.5 L413.2 1461.4Z M240.7 1440.2 L241.3 1441.9 L243.2 1442.0 L241.7 1443.1 L242.2 1444.9 L240.7 1443.9 L239.2 1444.9 L239.7 1443.1 L238.2 1442.0 L240.1 1441.9Z M257.6 1454.2 L258.8 1457.3 L262.0 1457.4 L259.5 1459.4 L260.3 1462.5 L257.6 1460.8 L254.9 1462.5 L255.8 1459.4 L253.2 1457.4 L256.5 1457.3Z M240.7 1466.8 L241.8 1469.8 L245.1 1470.0 L242.5 1472.0 L243.4 1475.1 L240.7 1473.3 L238.0 1475.1 L238.9 1472.0 L236.3 1470.0 L239.6 1469.8Z M283.7 1479.7 L284.3 1481.4 L286.1 1481.5 L284.7 1482.6 L285.2 1484.4 L283.7 1483.3 L282.1 1484.4 L282.6 1482.6 L281.2 1481.5 L283.0 1481.4Z M288.9 1483.6 L289.5 1485.3 L291.3 1485.4 L289.9 1486.5 L290.4 1488.3 L288.9 1487.3 L287.3 1488.3 L287.8 1486.5 L286.4 1485.4 L288.2 1485.3Z M314.0 1481.6 L315.2 1484.6 L318.4 1484.7 L315.9 1486.8 L316.7 1489.9 L314.0 1488.1 L311.3 1489.9 L312.2 1486.8 L309.7 1484.7 L312.9 1484.6Z M257.6 1485.5 L259.4 1490.2 L264.5 1490.4 L260.5 1493.6 L261.9 1498.5 L257.6 1495.7 L253.4 1498.5 L254.7 1493.6 L250.8 1490.4 L255.8 1490.2Z M297.6 1507.6 L298.7 1510.6 L301.9 1510.8 L299.4 1512.8 L300.3 1515.9 L297.6 1514.1 L294.8 1515.9 L295.7 1512.8 L293.2 1510.8 L296.4 1510.6Z M341.4 1503.1 L342.0 1504.8 L343.9 1504.9 L342.4 1506.0 L342.9 1507.8 L341.4 1506.8 L339.9 1507.8 L340.4 1506.0 L338.9 1504.9 L340.7 1504.8Z M266.7 1522.6 L267.4 1524.3 L269.2 1524.4 L267.8 1525.6 L268.3 1527.3 L266.7 1526.3 L265.2 1527.3 L265.7 1525.6 L264.3 1524.4 L266.1 1524.3Z" fill="#fff"/>
<path d="M181.2 1576.4 L449.3 1620.9 L676.3 1535.4 L676.3 1570.4 L449.3 1677.9 L183.4 1615 Z" fill="#f5f6f6"/>
<path d="M181.2 1576.4 L183.4 1615 L449.3 1677.9 L676.3 1570.4 L676.3 1535.4" fill="none" stroke="#666" stroke-width="5.5" stroke-linejoin="round"/>
<path d="M446.8 1624 Q441 1648 446.8 1672 Q452.5 1648 446.8 1624 Z" fill="#666" stroke="#666" stroke-width="2.5"/>
<path d="M181.2 1576.4 L363.5 1517.8 L676.3 1531 L449.3 1620.9 C380 1610 300 1590 181.2 1576.4 Z" fill="#e52421" stroke="#fff" stroke-width="3" stroke-linejoin="round"/>
<path d="M363.0 1511.8 C364.4 1509.3 369.8 1504.4 374.4 1502.0 C379.0 1499.6 385.3 1500.4 390.7 1497.2 C396.1 1494.0 399.1 1486.9 407.0 1482.6 C414.9 1478.3 431.1 1473.8 437.9 1471.2 C444.7 1468.6 443.9 1467.2 447.7 1467.1 C451.5 1466.9 452.6 1469.9 460.7 1470.3 C468.8 1470.7 486.5 1468.5 496.5 1469.5 C506.5 1470.5 512.8 1473.4 520.9 1476.0 C529.0 1478.6 538.5 1483.4 545.3 1485.0 C552.1 1486.6 555.6 1485.0 561.6 1485.8 C567.6 1486.6 570.1 1488.5 581.0 1489.9 C591.9 1491.3 613.7 1491.7 626.7 1494.0 C639.7 1496.3 650.8 1500.2 659.2 1503.7 C667.6 1507.2 674.0 1512.0 677.1 1515.1 C680.2 1518.1 678.0 1518.8 678.0 1522.0 C678.0 1525.2 683.3 1529.7 677.0 1534.0 C670.7 1538.3 650.8 1543.8 640.0 1548.0 C629.2 1552.2 619.6 1556.2 612.0 1559.0 C604.4 1561.8 598.7 1564.3 594.1 1564.5 C589.5 1564.7 587.1 1561.9 584.4 1560.0 C581.7 1558.1 587.1 1555.0 577.9 1553.0 C568.7 1551.0 542.6 1550.3 529.0 1548.0 C515.4 1545.7 503.3 1539.8 496.5 1539.0 C489.7 1538.2 491.6 1541.3 488.3 1543.0 C485.1 1544.7 481.1 1549.0 477.0 1549.0 C472.9 1549.0 467.5 1545.3 464.0 1543.0 C460.5 1540.7 463.9 1537.2 455.8 1535.0 C447.7 1532.8 426.0 1531.9 415.1 1530.0 C404.2 1528.1 398.8 1525.8 390.7 1523.6 C382.6 1521.4 370.9 1519.1 366.3 1517.1 C361.7 1515.1 361.6 1514.3 363.0 1511.8Z" fill="#fff" stroke="#fff" stroke-width="2"/>
<path d="M374.4 1516.7 C400 1520 430 1527 455.8 1531.4 C465 1535 470 1541 477 1540.3 C482 1540 484 1538 485 1536.3" fill="none" stroke="#666" stroke-width="2"/>
<path d="M496.5 1534.6 C520 1540 550 1546 577.9 1551 C585 1554 590 1558 597.4 1558.2 C602 1558 604 1556 605.5 1554.2 C625 1545 650 1532 672.3 1520" fill="none" stroke="#666" stroke-width="2"/>
<path d="M496.5 1475.2 C515 1480 535 1486 551.8 1493.1" fill="none" stroke="#666" stroke-width="1.5"/>
<path d="M625 1495.6 C645 1499 662 1506 676 1515" fill="none" stroke="#666" stroke-width="1.5"/>
<path d="M485.9 1517.5 C495 1502 515 1494 532.3 1496.4 C515 1500 500 1508 485.9 1517.5 Z" fill="#666" stroke="#666" stroke-width="4" stroke-linejoin="round"/>
<path d="M607.2 1537.9 C615 1522 635 1513 653.5 1515.9 C635 1520 620 1528 607.2 1537.9 Z" fill="#666" stroke="#666" stroke-width="4" stroke-linejoin="round"/>
<path d="M176.9 1636.8 L449.3 1700 L689.4 1584.3 M209.4 1627.2 L176.9 1636.8 L192 1659.8 M659.2 1585.1 L689.4 1584.3 L675.5 1616" stroke="#e52421" stroke-width="5" fill="none" stroke-linecap="round" stroke-linejoin="round"/>
<text x="724" y="1523.2" font-size="77" font-weight="bold" fill="#666" textLength="332" lengthAdjust="spacingAndGlyphs">130 x 220</text>
</svg></body></html>
